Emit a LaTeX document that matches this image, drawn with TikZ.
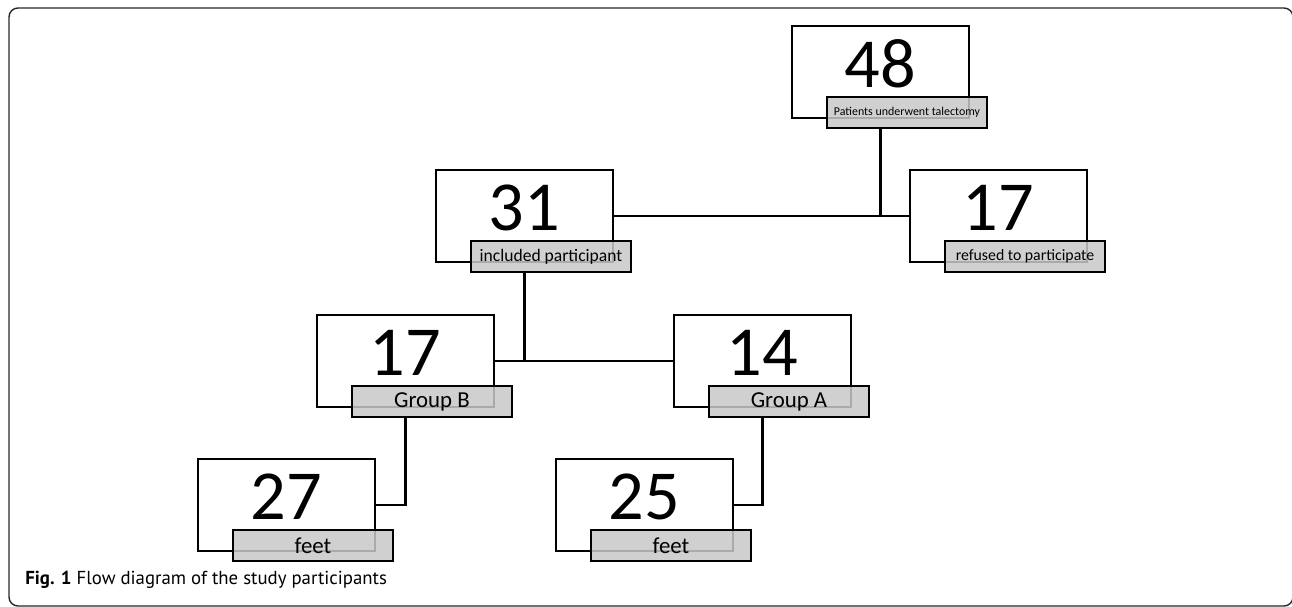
\documentclass[tikz,border=0pt]{standalone}
\usepackage{fontspec}
\setmainfont{Carlito}
\newfontfamily\capfont{PT Sans}
\usepackage{tikz}
\usetikzlibrary{positioning,calc}
\definecolor{labelgray}{RGB}{200,200,200}
\definecolor{framegray}{RGB}{40,40,40}

\begin{document}
\begin{tikzpicture}[x=0.02cm, y=-0.02cm,
  countbox/.style={draw=black, line width=1.1pt, fill=white, minimum width=3.54cm, minimum height=1.84cm, anchor=north west, inner sep=0pt, outer sep=0pt},
  num/.style={font=\fontsize{40}{40}\selectfont, inner sep=0pt},
  tag/.style={draw=black, line width=1.1pt, fill=labelgray, fill opacity=0.85, text opacity=1, minimum width=3.2cm, minimum height=0.62cm, anchor=north west, inner sep=0pt, outer sep=0pt, font=\fontsize{10}{12}\selectfont},
  conn/.style={line width=1.25pt, draw=black},
]
\useasboundingbox (0,0) rectangle (1292,607);
\draw[framegray, line width=0.8pt, rounded corners=0.18cm] (9,8) rectangle (1293,606);

% top: all patients
\node[countbox] (b48) at (792,26) {};
\node[num] (n48) at ([shift={(0,38)}]b48.north) {48};
\node[tag, font=\fontsize{6.8}{8}\selectfont] (l48) at ([shift={(35,71)}]b48.north west) {Patients underwent talectomy};

% second row
\node[countbox] (b31) at (436,170) {};
\node[num] (n31) at ([shift={(0,38)}]b31.north) {31};
\node[tag] (l31) at ([shift={(35,71)}]b31.north west) {included participant};

\node[countbox] (bref) at (910,170) {};
\node[num] (nref) at ([shift={(0,38)}]bref.north) {17};
\node[tag, font=\fontsize{9}{11}\selectfont] (lref) at ([shift={(35,71)}]bref.north west) {refused to participate};

% groups
\node[countbox] (bB) at (317,315) {};
\node[num] (nB) at ([shift={(0,38)}]bB.north) {17};
\node[tag, font=\fontsize{13}{14}\selectfont] (lB) at ([shift={(35,71)}]bB.north west) {Group B};

\node[countbox] (bA) at (674,315) {};
\node[num] (nA) at ([shift={(0,38)}]bA.north) {14};
\node[tag, font=\fontsize{13}{14}\selectfont] (lA) at ([shift={(35,71)}]bA.north west) {Group A};

% feet
\node[countbox] (b27) at (198,459) {};
\node[num] (n27) at ([shift={(0,38)}]b27.north) {27};
\node[tag, font=\fontsize{13}{14}\selectfont] (l27) at ([shift={(35,71)}]b27.north west) {feet};

\node[countbox] (b25) at (556,459) {};
\node[num] (n25) at ([shift={(0,38)}]b25.north) {25};
\node[tag, font=\fontsize{13}{14}\selectfont] (l25) at ([shift={(35,71)}]b25.north west) {feet};

% connectors
\draw[conn] (b31.east) -- (bref.west);
\draw[conn] (l48.south -| b48.south) -- (b48.south |- b31.east);
\draw[conn] (bB.east) -- (bA.west);
\draw[conn] (l31.south -| b31.south) -- (b31.south |- bB.east);
\draw[conn] (lB.south -| bB.south) |- (b27.east);
\draw[conn] (lA.south -| bA.south) |- (b25.east);

\node[anchor=base west, inner sep=0pt, font=\capfont\fontsize{10.7}{12}\selectfont] (cap) at (25,585) {\textbf{Fig. 1} Flow diagram of the study participants};
\end{tikzpicture}
\end{document}
